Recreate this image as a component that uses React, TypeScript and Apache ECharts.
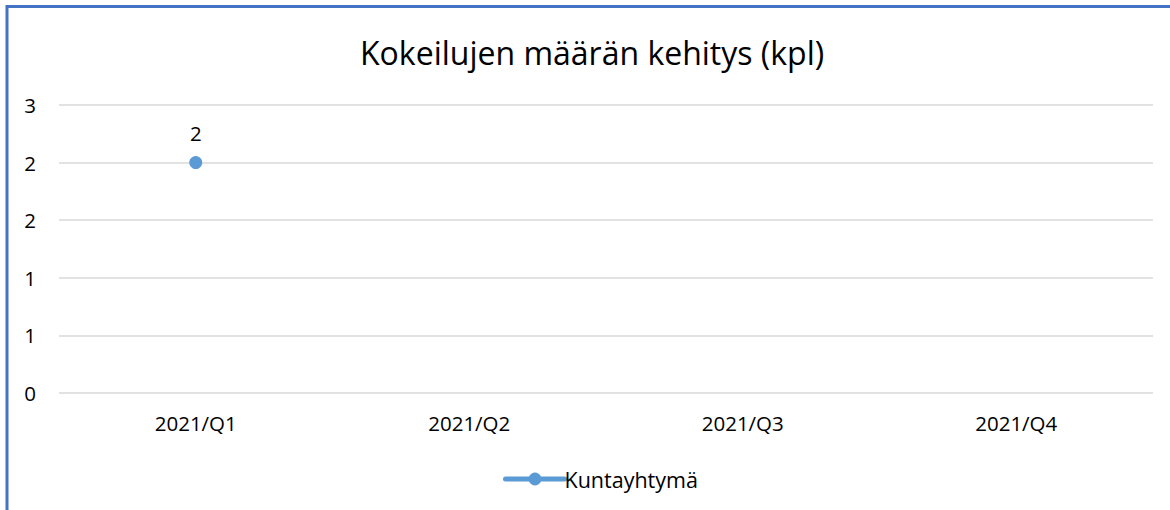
import React, { useEffect, useRef } from "react";
import * as echarts from "echarts";

const title = "Kokeilujen määrän kehitys (kpl)";
const categories = ["2021/Q1", "2021/Q2", "2021/Q3", "2021/Q4"];
const seriesName = "Kuntayhtymä";
const values: (number | null)[] = [2, null, null, null];

export default function App() {
  const ref = useRef<HTMLDivElement>(null);
  useEffect(() => {
    const chart = echarts.init(ref.current!, undefined, { renderer: "svg" });
    const font = "'Open Sans', 'Noto Sans', sans-serif";
    chart.setOption({
      animation: false,
      backgroundColor: "#ffffff",
      title: {
        text: title,
        left: 355,
        top: 31,
        textStyle: { fontFamily: font, fontSize: 32, fontWeight: "normal", color: "#000000" },
      },
      legend: {
        bottom: 15,
        left: 498,
        itemWidth: 59,
        itemHeight: 16,
        lineStyle: { width: 5, color: "#5b9bd5", cap: "round" },
        textStyle: { fontFamily: font, fontSize: 21.5, color: "#000000", padding: [0, 0, 0, -5] },
        data: [seriesName],
      },
      grid: { left: 59, right: 17, top: 105, bottom: 117, containLabel: false },
      xAxis: {
        type: "category",
        data: categories,
        boundaryGap: true,
        axisLine: { show: false },
        axisTick: { show: false },
        axisLabel: { fontFamily: font, fontSize: 20.5, color: "#000000", margin: 19 },
      },
      yAxis: {
        type: "value",
        min: 0,
        max: 2.5,
        interval: 0.5,
        axisLine: { show: false },
        axisTick: { show: false },
        splitLine: { lineStyle: { color: "#d9d9d9", width: 1.5 } },
        axisLabel: {
          fontFamily: font,
          fontSize: 20.5,
          color: "#000000",
          margin: 23,
          formatter: (v: number) => String(Math.round(v + 1e-9)),
        },
      },
      series: [
        {
          name: seriesName,
          type: "line",
          data: values,
          symbol: "circle",
          symbolSize: 13,
          itemStyle: { color: "#5b9bd5" },
          lineStyle: { color: "#5b9bd5", width: 4 },
          label: {
            show: true,
            position: "top",
            distance: 13,
            fontFamily: font,
            fontSize: 20.5,
            color: "#000000",
          },
        },
      ],
      graphic: [
        { type: "line", shape: { x1: 6, y1: 6.5, x2: 1170, y2: 6.5 }, style: { stroke: "#4472c4", lineWidth: 3 } },
        { type: "line", shape: { x1: 7, y1: 5, x2: 7, y2: 510 }, style: { stroke: "#4472c4", lineWidth: 3 } },
      ],
    });
    return () => chart.dispose();
  }, []);
  return (
    <div
      ref={ref}
      style={{ position: "fixed", left: 0, top: 0, width: 1170, height: 510 }}
    />
  );
}
